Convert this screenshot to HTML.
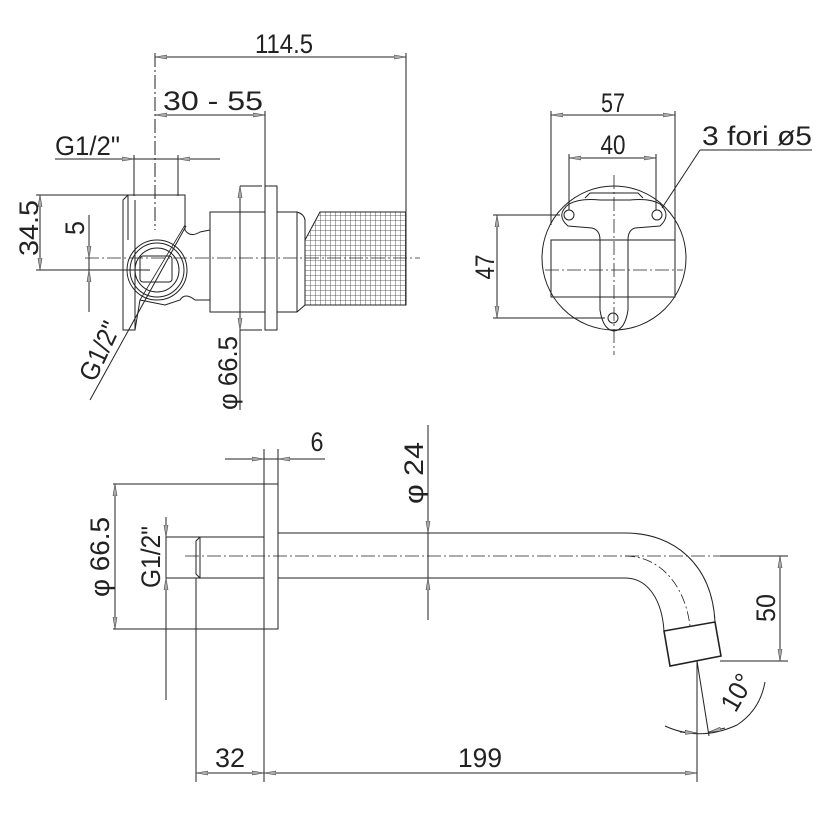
<!DOCTYPE html>
<html><head><meta charset="utf-8"><style>
html,body{margin:0;padding:0;background:#fff;}
svg{display:block;}
text{font-family:"Liberation Sans",sans-serif;font-size:27px;fill:#222;}
</style></head><body>
<svg width="839" height="818" viewBox="0 0 839 818" xmlns="http://www.w3.org/2000/svg">
<defs>
<marker id="a" viewBox="0 0 12 6" refX="12" refY="3" markerWidth="12" markerHeight="6" markerUnits="userSpaceOnUse" orient="auto-start-reverse">
<path d="M0,1 L12,3 L0,5 Z" fill="#aaa" stroke="#444" stroke-width="0.6"/></marker>
<pattern id="k" width="5" height="5" patternUnits="userSpaceOnUse">
<path d="M0,0 H5 M0,0 V5" stroke="#333" stroke-width="0.8" fill="none"/></pattern>
</defs>
<g stroke="#222" fill="none" stroke-width="1">
<!-- TOP LEFT -->
<line x1="155" y1="57" x2="406" y2="57" marker-start="url(#a)" marker-end="url(#a)"/>
<line x1="155" y1="53" x2="155" y2="230" stroke-dasharray="14,3,2,3"/>
<line x1="406" y1="53" x2="406" y2="212"/>
<line x1="155" y1="115" x2="265" y2="115" marker-start="url(#a)" marker-end="url(#a)"/>
<line x1="265" y1="111" x2="265" y2="186"/>
<line x1="55" y1="159" x2="220" y2="159"/>
<line x1="112" y1="159" x2="134" y2="159" marker-end="url(#a)"/>
<line x1="200" y1="159" x2="178" y2="159" marker-end="url(#a)"/>
<line x1="134" y1="155" x2="134" y2="196"/>
<line x1="178" y1="155" x2="178" y2="196"/>
<line x1="36" y1="195" x2="135" y2="195"/>
<line x1="36" y1="270" x2="150" y2="270"/>
<line x1="40" y1="195" x2="40" y2="270" marker-start="url(#a)" marker-end="url(#a)"/>
<line x1="89" y1="215" x2="89" y2="312"/>
<line x1="89" y1="238" x2="89" y2="258" marker-end="url(#a)"/>
<line x1="89" y1="290" x2="89" y2="270" marker-end="url(#a)"/>
<line x1="85" y1="258" x2="420" y2="258" stroke-dasharray="14,3,2,3" stroke-width="0.8"/>
<!-- valve body -->
<path d="M123,200 L128,195 L185,195 L185,230 Q190,238 200,232 L210,230 L210,300 L195,300 Q185,292 180,300 L165,305 L140,300 L135,330 L123,330 L123,200 Z"/>
<line x1="135" y1="200" x2="135" y2="330"/>
<line x1="128" y1="195" x2="128" y2="240"/>
<circle cx="157" cy="270" r="30"/>
<circle cx="157" cy="270" r="27"/>
<circle cx="157" cy="270" r="22"/>
<rect x="140" y="256" width="32" height="26" rx="3"/>
<line x1="185" y1="225" x2="140" y2="300" stroke-width="0.8"/>
<rect x="210" y="212" width="55" height="100"/>
<rect x="265" y="186" width="12" height="144"/>
<path d="M277,212 L297,212 Q304,214 305,220 L305,305 L297,312 L277,312"/>
<polygon points="320,212 406,212 406,305 305,305 305,240" fill="url(#k)"/>
<line x1="297" y1="212" x2="297" y2="312"/>
<line x1="240" y1="186" x2="240" y2="330" marker-start="url(#a)" marker-end="url(#a)"/>
<line x1="240" y1="330" x2="240" y2="410"/>
<line x1="240" y1="186" x2="262" y2="186"/>
<line x1="240" y1="330" x2="262" y2="330"/>
<line x1="90" y1="400" x2="186" y2="226"/>
<!-- TOP RIGHT -->
<line x1="551" y1="115" x2="675" y2="115" marker-start="url(#a)" marker-end="url(#a)"/>
<line x1="551" y1="111" x2="551" y2="225"/>
<line x1="675" y1="111" x2="675" y2="245"/>
<line x1="569" y1="158" x2="656" y2="158" marker-start="url(#a)" marker-end="url(#a)"/>
<line x1="569" y1="154" x2="569" y2="210"/>
<line x1="656" y1="154" x2="656" y2="210"/>
<circle cx="614" cy="258" r="72"/>
<line x1="614" y1="175" x2="614" y2="355" stroke-dasharray="14,3,2,3" stroke-width="0.8"/>
<line x1="545" y1="270" x2="683" y2="270" stroke-dasharray="14,3,2,3" stroke-width="0.8"/>
<path d="M569,204 Q580,198 600,200 L630,200 Q650,198 660,204 Q672,215 660,226 L635,228 Q628,230 628,240 L628,310 Q625,330 614,331 Q603,330 600,310 L600,240 Q600,230 592,228 L568,226 Q555,215 569,204 Z"/>
<circle cx="569" cy="215" r="5"/><circle cx="657" cy="215" r="5"/><circle cx="613" cy="318" r="5"/>
<rect x="551" y="240" width="124" height="57"/>
<path d="M585,198 L590,193 L638,193 L643,198"/>
<line x1="497" y1="215" x2="497" y2="318" marker-start="url(#a)" marker-end="url(#a)"/>
<line x1="493" y1="215" x2="560" y2="215"/>
<line x1="493" y1="318" x2="605" y2="318"/>
<line x1="700" y1="150" x2="812" y2="150"/>
<line x1="700" y1="150" x2="662" y2="208"/>
<!-- BOTTOM -->
<line x1="225" y1="459" x2="325" y2="459"/>
<line x1="245" y1="459" x2="264" y2="459" marker-end="url(#a)"/>
<line x1="298" y1="459" x2="278" y2="459" marker-end="url(#a)"/>
<line x1="264" y1="449" x2="264" y2="484"/>
<line x1="278" y1="449" x2="278" y2="484"/>
<rect x="264" y="484" width="14" height="145"/>
<line x1="113" y1="484" x2="264" y2="484"/>
<line x1="113" y1="629" x2="264" y2="629"/>
<line x1="115" y1="484" x2="115" y2="629" marker-start="url(#a)" marker-end="url(#a)"/>
<line x1="166" y1="517" x2="166" y2="700"/>
<line x1="166" y1="517" x2="166" y2="537" marker-end="url(#a)"/>
<line x1="166" y1="598" x2="166" y2="578" marker-end="url(#a)"/>
<line x1="166" y1="537" x2="264" y2="537"/>
<line x1="166" y1="578" x2="264" y2="578"/>
<path d="M200,537 L196,541 L196,574 L200,578 M200,537 L200,578"/>
<line x1="196" y1="578" x2="196" y2="782"/>
<line x1="264" y1="629" x2="264" y2="782"/>
<line x1="185" y1="556" x2="780" y2="556" stroke-dasharray="14,3,2,3" stroke-width="0.8"/>
<path d="M278,533 L625,533 C675,533 712,565 715,622"/>
<path d="M278,578 L625,578 C648,578 662,600 664,631"/>
<path d="M625,556 C660,556 685,585 690,626" stroke-dasharray="10,3,2,3" stroke-width="0.8"/>
<path d="M664,631 L715,622 L721,656 L670,666 Z" stroke-width="1.6"/>
<line x1="428" y1="425" x2="428" y2="620"/>
<line x1="428" y1="510" x2="428" y2="533" marker-end="url(#a)"/>
<line x1="428" y1="600" x2="428" y2="578" marker-end="url(#a)"/>
<line x1="720" y1="556" x2="788" y2="556"/>
<line x1="720" y1="661" x2="788" y2="661"/>
<line x1="780" y1="556" x2="780" y2="661" marker-start="url(#a)" marker-end="url(#a)"/>
<line x1="697" y1="661" x2="697" y2="782"/>
<line x1="697" y1="661" x2="709" y2="736"/>
<path d="M665,726 Q700,742 737,725 Q760,710 765,682"/>
<line x1="680" y1="732" x2="697" y2="733" marker-end="url(#a)"/>
<line x1="725" y1="728" x2="709" y2="732" marker-end="url(#a)"/>
<line x1="196" y1="773" x2="264" y2="773" marker-start="url(#a)" marker-end="url(#a)"/>
<line x1="264" y1="773" x2="697" y2="773" marker-start="url(#a)" marker-end="url(#a)"/>
</g>
<g>
<text x="284" y="53" text-anchor="middle" textLength="58" lengthAdjust="spacingAndGlyphs">114.5</text>
<text x="213" y="110" text-anchor="middle" textLength="100" lengthAdjust="spacingAndGlyphs">30 - 55</text>
<text x="55" y="155" textLength="65" lengthAdjust="spacingAndGlyphs">G1/2"</text>
<text transform="translate(38,228) rotate(-90)" text-anchor="middle" textLength="56" lengthAdjust="spacingAndGlyphs">34.5</text>
<text transform="translate(84,228) rotate(-90)" text-anchor="middle" textLength="14" lengthAdjust="spacingAndGlyphs">5</text>
<text transform="translate(108,355) rotate(-65)" text-anchor="middle" textLength="62" lengthAdjust="spacingAndGlyphs">G1/2"</text>
<text transform="translate(237,373) rotate(-90)" text-anchor="middle" textLength="74" lengthAdjust="spacingAndGlyphs">φ 66.5</text>
<text x="613" y="112" text-anchor="middle" textLength="24" lengthAdjust="spacingAndGlyphs">57</text>
<text x="613" y="154" text-anchor="middle" textLength="25" lengthAdjust="spacingAndGlyphs">40</text>
<text x="702" y="145" textLength="110" lengthAdjust="spacingAndGlyphs">3 fori ø5</text>
<text transform="translate(494,267) rotate(-90)" text-anchor="middle" textLength="25" lengthAdjust="spacingAndGlyphs">47</text>
<text x="317" y="451" text-anchor="middle" textLength="13" lengthAdjust="spacingAndGlyphs">6</text>
<text transform="translate(423,473) rotate(-90)" text-anchor="middle" textLength="62" lengthAdjust="spacingAndGlyphs">φ 24</text>
<text transform="translate(109,557) rotate(-90)" text-anchor="middle" textLength="80" lengthAdjust="spacingAndGlyphs">φ 66.5</text>
<text transform="translate(160,557) rotate(-90)" text-anchor="middle" textLength="62" lengthAdjust="spacingAndGlyphs">G1/2"</text>
<text transform="translate(775,608) rotate(-90)" text-anchor="middle" textLength="28" lengthAdjust="spacingAndGlyphs">50</text>
<text transform="translate(745,697) rotate(-60)" text-anchor="middle" textLength="38" lengthAdjust="spacingAndGlyphs">10°</text>
<text x="230" y="767" text-anchor="middle" textLength="30" lengthAdjust="spacingAndGlyphs">32</text>
<text x="480" y="767" text-anchor="middle" textLength="44" lengthAdjust="spacingAndGlyphs">199</text>
</g>
</svg>
</body></html>
